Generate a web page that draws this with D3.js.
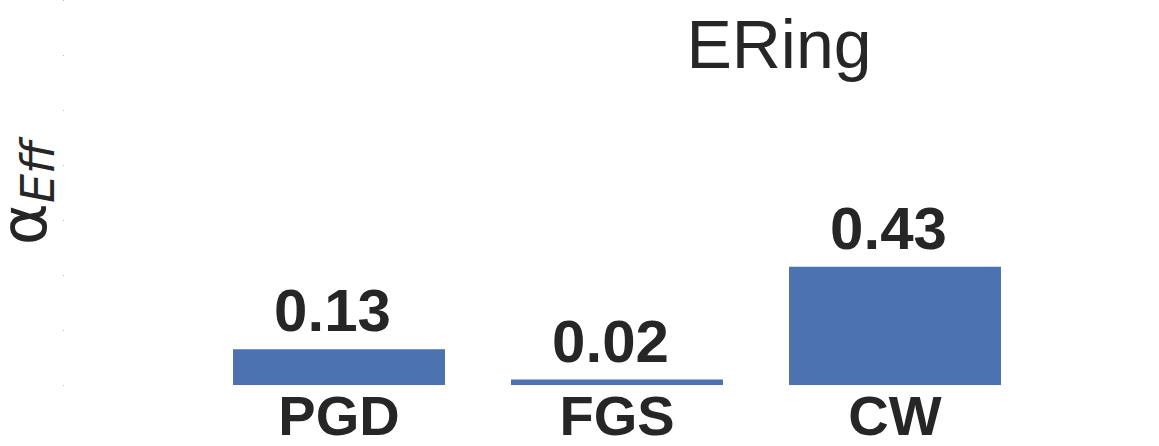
<!DOCTYPE html>
<html><head><meta charset="utf-8">
<script src="https://cdn.jsdelivr.net/npm/d3@7"></script>
<style>body{margin:0;background:#fff}svg{display:block}</style>
</head><body>
<svg id="c" width="1159" height="446"></svg>
<script>
const categories = ["PGD", "FGS", "CW"];
const values = [0.13, 0.02, 0.43];
const valueLabels = ["0.13", "0.02", "0.43"];
const yTicks = [0, 0.2, 0.4, 0.6, 0.8, 1.0, 1.2, 1.4];
const title = "ERing";

const svg = d3.select("#c");
const baseY = 385;
const y = d3.scaleLinear().domain([0, 1.4]).range([baseY, 0]);
const step = 278, po = 0.5, pi = 66/278;
const r0 = 233 - po*step;
const x = d3.scaleBand().domain(categories).range([r0, r0 + step*(3 - pi + 2*po)]).paddingInner(pi).paddingOuter(po);

const txt = "#262626";
const font = "'Liberation Sans', Arial, sans-serif";

// y-axis tiny ticks
const ax = svg.append("g").attr("transform","translate(64,0)")
  .call(d3.axisLeft(y).tickValues(yTicks).tickSize(1).tickFormat(""));
ax.select(".domain").remove();
ax.selectAll(".tick line").attr("stroke","#bbbbbb").attr("stroke-width",1);

// bars
svg.append("g").selectAll("rect").data(categories).join("rect")
  .attr("x", d => x(d))
  .attr("width", x.bandwidth())
  .attr("y", (d,i) => y(values[i]))
  .attr("height", (d,i) => baseY - y(values[i]))
  .attr("fill", "#4c72b0");

// value labels
svg.append("g").selectAll("text").data(categories).join("text")
  .attr("x", d => x(d) + x.bandwidth()/2 - 6.5)
  .attr("y", (d,i) => y(values[i]) - 18)
  .attr("text-anchor","middle")
  .attr("font-family", font).attr("font-weight","bold").attr("font-size", 60)
  .attr("fill", txt)
  .text((d,i) => valueLabels[i]);

// category labels
svg.append("g").selectAll("text").data(categories).join("text")
  .attr("x", d => x(d) + x.bandwidth()/2)
  .attr("y", baseY + 50)
  .attr("text-anchor","middle")
  .attr("font-family", font).attr("font-weight","bold").attr("font-size", 56)
  .attr("fill", txt)
  .text(d => d);

// title
svg.append("text")
  .attr("x", 779).attr("y", 68)
  .attr("text-anchor","middle")
  .attr("font-family", font).attr("font-size", 68)
  .attr("fill", txt)
  .text(title);

// y label
const yl = svg.append("text")
  .attr("transform","translate(46,193) rotate(-90)")
  .attr("text-anchor","middle")
  .attr("font-family","'DejaVu Sans', sans-serif")
  .attr("fill", txt);
yl.append("tspan").attr("font-size", 64).text("α");
yl.append("tspan").attr("font-size", 46).attr("font-style","italic").attr("dy", 8).text("Eff");
</script>
</body></html>
